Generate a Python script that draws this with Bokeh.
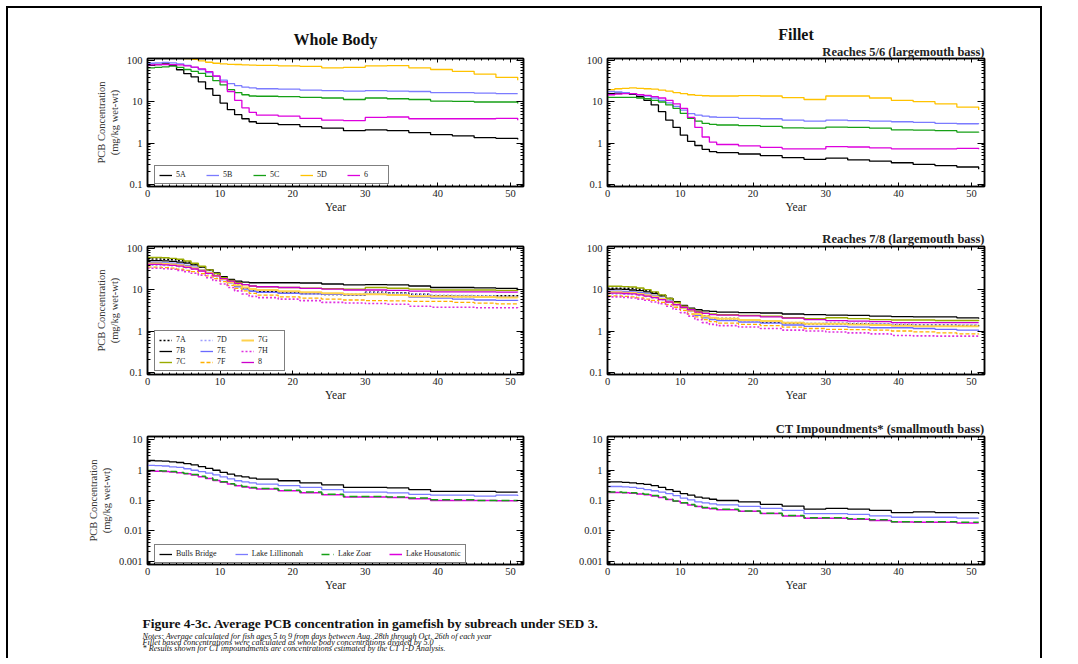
from bokeh.plotting import figure
from bokeh.models import (Range1d, LogAxis, LinearAxis, FixedTicker, Title, Legend,
                          LegendItem, Label, PrintfTickFormatter)
from bokeh.layouts import row, column
from bokeh.embed import file_html
from bokeh.resources import INLINE

FONT = "Liberation Serif"

# ---------------- data ----------------
YEARS = list(range(0, 16)) + [18, 21, 24, 27, 30, 33, 36, 39, 42, 45, 48, 51]

# Whole body, Reaches 5/6 (largemouth bass)
WB56_5A = [78, 82, 85, 78, 61, 49, 41, 31, 21, 14.5, 9.4, 6.5, 4.9, 3.9, 3.3, 3.0, 2.8, 2.5, 2.3, 2.0, 2.1, 2.0, 1.8, 1.6, 1.5, 1.35, 1.3, 1.22]
WB56_5B = [88, 90, 92, 90, 85, 78, 70, 62, 52, 42, 34, 28, 25, 23, 22, 21, 20.5, 19.5, 19, 18.5, 19, 18.5, 18, 17, 17, 16.5, 16, 16]
WB56_5C = [68, 70, 72, 75, 70, 62, 56, 50, 42, 33, 26, 20, 17, 15, 14, 13.8, 13.5, 13, 12.5, 11.5, 12.5, 12, 11.5, 10.5, 10.3, 10, 10, 9.2]
WB56_5D = [130, 128, 126, 122, 118, 114, 110, 100, 93, 88, 85, 83, 82, 80, 79, 78, 76, 74, 68, 70, 76, 77, 68, 62, 56, 48, 40, 34]
WB56_6 = [80, 81, 82, 81, 80, 76, 71, 64, 55, 43, 31, 18, 11, 7.2, 5.6, 4.8, 4.5, 4.0, 3.6, 3.5, 4.2, 4.3, 3.9, 3.9, 3.9, 3.9, 4.0, 3.6]

# Fillet, Reaches 5/6
FI56_5A = [16, 16.5, 16.5, 15.4, 13.5, 11, 8.5, 5.8, 3.6, 2.4, 1.55, 1.1, 0.87, 0.7, 0.62, 0.58, 0.54, 0.49, 0.44, 0.40, 0.43, 0.39, 0.36, 0.33, 0.30, 0.28, 0.26, 0.23]
FI56_5B = [18, 17.5, 17, 16, 15, 14, 12.5, 11, 9.5, 7.8, 6.3, 5.2, 4.8, 4.5, 4.3, 4.2, 4.0, 3.9, 3.6, 3.4, 3.6, 3.5, 3.4, 3.3, 3.2, 3.0, 2.95, 2.9]
FI56_5C = [13, 13, 13, 13, 12.5, 12, 11, 10, 8.5, 7, 5.3, 4.0, 3.4, 3.0, 2.85, 2.75, 2.65, 2.55, 2.35, 2.3, 2.45, 2.4, 2.3, 2.1, 2.05, 2.0, 1.85, 1.8]
FI56_5D = [20, 21, 21.5, 22, 21.5, 21, 20.5, 19.5, 18.5, 17, 16, 15, 14.5, 14.2, 14, 14, 14.3, 14, 12.8, 11.5, 14, 14, 12.5, 11, 10.2, 9, 7.5, 6.4]
FI56_6 = [15, 15.5, 16, 16, 15, 14.5, 13.5, 12.5, 11, 9, 7, 4.2, 2.4, 1.4, 1.05, 0.92, 0.85, 0.78, 0.72, 0.72, 0.82, 0.8, 0.76, 0.72, 0.72, 0.72, 0.74, 0.7]

# Whole body, Reaches 7/8 (largemouth bass)
WB78_7A = [57, 57, 56, 55, 52, 48, 43, 37, 31, 25, 20, 16, 13, 11, 10, 9.2, 8.5, 8.2, 7.8, 7.6, 8.8, 8.5, 7.9, 7.2, 7.0, 7.0, 7.2, 7.0]
WB78_7B = [52, 52, 51, 50, 48, 45, 41, 36, 31, 26, 21, 18, 16.5, 15.5, 15, 15, 15, 14.8, 14, 13.3, 13.5, 13.3, 12.5, 11.5, 11.5, 11.2, 11, 10.8]
WB78_7C = [62, 62, 61, 59, 56, 51, 45, 38, 31, 25, 20, 17, 15, 13.5, 12.5, 12, 11.5, 11, 10.8, 10.5, 11.5, 11, 10.5, 10, 10, 10, 9.8, 9.6]
WB78_7D = [40, 40, 39.5, 39, 37, 35, 32, 29, 25, 21, 18, 15, 12.5, 11, 9.8, 9, 8.5, 8.2, 8, 8, 8.6, 8.3, 7.8, 7.4, 7.3, 7.1, 7.0, 7.0]
WB78_7E = [47, 47, 46, 45, 43, 40, 36, 31, 27, 22, 18, 15, 12, 10.5, 9.3, 8.7, 8.3, 8.0, 7.8, 7.6, 7.9, 7.5, 6.7, 6.3, 6.0, 5.7, 5.6, 5.5]
WB78_7F = [36, 36, 35, 34, 32, 30, 28, 25, 22, 19, 16, 13, 11, 9.5, 8.3, 7.5, 6.8, 6.3, 6.0, 5.7, 5.5, 5.4, 5.3, 5.3, 5.0, 4.8, 4.6, 4.5]
WB78_7G = [44, 44, 43, 42, 40, 37, 34, 30, 26, 22, 18.5, 15.5, 13, 11.5, 10.5, 10, 9.3, 8.8, 8.3, 7.9, 7.9, 7.5, 7.0, 6.9, 6.8, 6.7, 6.6, 6.5]
WB78_7H = [34, 34, 33, 32, 30, 28, 25.5, 23, 20, 17, 14, 11.5, 9.5, 8, 7, 6.5, 6.0, 5.5, 5.0, 4.8, 4.7, 4.5, 4.0, 3.8, 3.8, 3.7, 3.7, 3.6]
WB78_8 = [42, 42, 41, 40, 38, 35.5, 32.5, 29, 25.5, 22, 19, 16.5, 14.5, 13.5, 12.5, 12, 11.5, 11, 10.5, 10, 10, 9.8, 9.4, 9.0, 9.0, 9.0, 8.9, 8.8]

# Fillet, Reaches 7/8
FI78_7A = [11, 11, 11, 11, 10.5, 9.6, 8.6, 7.4, 6.2, 5.0, 4.0, 3.3, 2.7, 2.3, 2.1, 2.0, 1.8, 1.65, 1.55, 1.5, 1.5, 1.5, 1.45, 1.4, 1.4, 1.4, 1.35, 1.3]
FI78_7B = [10.5, 10.5, 10.3, 10, 9.6, 9, 8.2, 7.2, 6.2, 5.2, 4.2, 3.6, 3.3, 3.1, 3.0, 2.9, 2.8, 2.75, 2.6, 2.5, 2.45, 2.4, 2.3, 2.25, 2.2, 2.2, 2.1, 2.0]
FI78_7C = [12.3, 12.3, 12.1, 11.8, 11.2, 10.2, 9, 7.6, 6.2, 5.0, 4.0, 3.4, 3.0, 2.7, 2.6, 2.5, 2.4, 2.3, 2.1, 2.0, 2.1, 2.0, 1.9, 1.85, 1.85, 1.8, 1.8, 1.75]
FI78_7D = [8.0, 8.0, 7.9, 7.8, 7.4, 7.0, 6.4, 5.8, 5.0, 4.2, 3.6, 3.0, 2.5, 2.2, 2.0, 1.9, 1.75, 1.7, 1.6, 1.55, 1.6, 1.55, 1.5, 1.45, 1.4, 1.4, 1.4, 1.4]
FI78_7E = [9.4, 9.4, 9.2, 9.0, 8.6, 8.0, 7.2, 6.2, 5.4, 4.4, 3.6, 3.0, 2.4, 2.1, 1.9, 1.8, 1.65, 1.55, 1.4, 1.3, 1.3, 1.25, 1.2, 1.2, 1.15, 1.1, 1.05, 1.0]
FI78_7F = [7.2, 7.2, 7.0, 6.8, 6.4, 6.0, 5.6, 5.0, 4.4, 3.8, 3.2, 2.6, 2.2, 1.9, 1.7, 1.55, 1.45, 1.35, 1.25, 1.15, 1.1, 1.08, 1.05, 1.0, 0.95, 0.9, 0.85, 0.82]
FI78_7G = [8.8, 8.8, 8.6, 8.4, 8.0, 7.4, 6.8, 6.0, 5.2, 4.4, 3.7, 3.1, 2.6, 2.3, 2.1, 2.0, 1.85, 1.75, 1.6, 1.5, 1.5, 1.45, 1.4, 1.35, 1.3, 1.3, 1.3, 1.3]
FI78_7H = [6.8, 6.8, 6.6, 6.4, 6.0, 5.6, 5.1, 4.6, 4.0, 3.4, 2.8, 2.3, 1.9, 1.6, 1.45, 1.35, 1.25, 1.15, 1.05, 1.0, 0.95, 0.9, 0.85, 0.78, 0.76, 0.75, 0.75, 0.74]
FI78_8 = [8.4, 8.4, 8.2, 8.0, 7.6, 7.1, 6.5, 5.8, 5.1, 4.4, 3.8, 3.3, 2.9, 2.7, 2.5, 2.45, 2.35, 2.2, 2.05, 1.9, 1.8, 1.75, 1.7, 1.6, 1.6, 1.6, 1.6, 1.6]

# Whole body, CT impoundments (smallmouth bass)
WBCT_BB = [2.1, 2.05, 2.0, 1.9, 1.8, 1.65, 1.5, 1.32, 1.15, 1.0, 0.85, 0.74, 0.65, 0.6, 0.55, 0.51, 0.45, 0.38, 0.33, 0.27, 0.27, 0.26, 0.23, 0.2, 0.2, 0.2, 0.19, 0.19]
WBCT_LL = [1.45, 1.42, 1.38, 1.3, 1.25, 1.12, 1.0, 0.9, 0.8, 0.7, 0.6, 0.52, 0.45, 0.41, 0.38, 0.35, 0.31, 0.27, 0.23, 0.19, 0.19, 0.18, 0.16, 0.15, 0.15, 0.14, 0.15, 0.14]
WBCT_LZ = [0.98, 0.96, 0.94, 0.9, 0.85, 0.78, 0.72, 0.63, 0.55, 0.48, 0.42, 0.36, 0.32, 0.29, 0.27, 0.25, 0.22, 0.19, 0.16, 0.135, 0.135, 0.13, 0.12, 0.105, 0.105, 0.1, 0.1, 0.1]
WBCT_LH = [0.95, 0.93, 0.91, 0.87, 0.82, 0.76, 0.7, 0.61, 0.53, 0.46, 0.4, 0.35, 0.31, 0.28, 0.26, 0.24, 0.21, 0.18, 0.155, 0.13, 0.13, 0.125, 0.115, 0.1, 0.1, 0.1, 0.098, 0.095]

# Fillet, CT impoundments
FICT_BB = [0.41, 0.41, 0.4, 0.38, 0.36, 0.34, 0.31, 0.27, 0.23, 0.2, 0.17, 0.15, 0.13, 0.12, 0.11, 0.1, 0.09, 0.075, 0.065, 0.052, 0.055, 0.052, 0.047, 0.04, 0.042, 0.04, 0.04, 0.036]
FICT_LL = [0.29, 0.29, 0.28, 0.27, 0.25, 0.23, 0.21, 0.19, 0.17, 0.145, 0.12, 0.105, 0.09, 0.083, 0.077, 0.072, 0.064, 0.055, 0.047, 0.037, 0.037, 0.035, 0.031, 0.028, 0.028, 0.028, 0.026, 0.026]
FICT_LZ = [0.19, 0.19, 0.185, 0.18, 0.17, 0.16, 0.145, 0.13, 0.11, 0.097, 0.085, 0.074, 0.065, 0.059, 0.055, 0.051, 0.045, 0.038, 0.032, 0.027, 0.027, 0.025, 0.023, 0.02, 0.02, 0.02, 0.019, 0.019]
FICT_LH = [0.185, 0.185, 0.18, 0.175, 0.165, 0.155, 0.14, 0.125, 0.107, 0.094, 0.082, 0.071, 0.063, 0.057, 0.053, 0.049, 0.044, 0.037, 0.031, 0.026, 0.026, 0.024, 0.022, 0.0195, 0.019, 0.019, 0.018, 0.018]

LABELS_56 = ["5A", "5B", "5C", "5D", "6"]
LABELS_78 = ["7A", "7B", "7C", "7D", "7E", "7F", "7G", "7H", "8"]
LABELS_CT = ["Bulls Bridge", "Lake Lillinonah", "Lake Zoar", "Lake Housatonic"]

X_TICKS = [0, 10, 20, 30, 40, 50]
Y_LABEL = "PCB Concentration\n(mg/kg wet-wt)"
CAPTION = "Figure 4-3c.  Average PCB concentration in gamefish by subreach under SED 3."
NOTES = [
    "Notes: Average calculated for fish ages 5 to 9 from days between Aug. 28th through Oct. 26th of each year",
    "Fillet based concentrations were calculated as whole body concentrations divided by 5.0",
    "* Results shown for CT impoundments are concentrations estimated by the CT 1-D Analysis.",
]

# ---------------- styles ----------------
STY_56 = [("#000000", "solid", 1.3), ("#7b7bff", "solid", 1.3), ("#16a016", "solid", 1.3),
          ("#ffc200", "solid", 1.3), ("#dd00dd", "solid", 1.3)]
STY_78 = [("#000000", "2 2", 1.6), ("#000000", "solid", 1.3), ("#9aab00", "solid", 1.4),
          ("#9d9dff", "2 2", 1.6), ("#6a6aff", "solid", 1.3), ("#ffb000", "4 2", 1.3),
          ("#ffd24d", "solid", 2.0), ("#e030e0", "2 2", 1.6), ("#cc00cc", "solid", 1.3)]
STY_CT = [("#000000", "solid", 1.3), ("#7b7bff", "solid", 1.3), ("#16a016", "8 4", 1.5),
          ("#dd00dd", "solid", 1.5)]
ORDER_CT = [0, 1, 3, 2]


def decades(lo, hi):
    major = [10.0 ** e for e in range(lo, hi + 1)]
    minor = [m * 10.0 ** e for e in range(lo - 1, hi + 1) for m in range(2, 10)]
    return major, minor


def style_axis(ax, vertical, show_labels=True):
    ax.axis_line_width = 1.5
    ax.axis_line_color = "black"
    ax.major_tick_out = 0
    ax.minor_tick_out = 0
    ax.major_tick_in = 7 if vertical else 4
    ax.minor_tick_in = 3 if vertical else 2
    ax.major_tick_line_width = 1
    ax.minor_tick_line_width = 1
    ax.major_label_text_font = FONT
    ax.major_label_text_color = "#222222"
    ax.major_label_standoff = 5 if vertical else 3
    ax.major_label_text_font_size = "10.5px"
    if not show_labels:
        ax.major_label_text_font_size = "1px"
        ax.major_label_text_alpha = 0.0
        ax.major_label_standoff = 0


def make_panel(series, styles, labels, y_exps, y_pad, left_col, titles, legend_cfg, order=None,
               top_border=26, bottom_border=36):
    lo, hi = y_exps
    if left_col:
        fw, bl, br = 376, 139, 20
    else:
        fw, bl, br = 377, 64, 56
    p = figure(frame_width=fw, frame_height=128, y_axis_type="log",
               x_range=Range1d(0, 51.8),
               y_range=Range1d(10 ** (lo - y_pad), 10 ** (hi + y_pad)),
               min_border_left=bl, min_border_right=br,
               min_border_top=top_border, min_border_bottom=bottom_border,
               output_backend="svg", toolbar_location=None)
    p.title.visible = False
    p.xgrid.visible = False
    p.ygrid.visible = False
    p.outline_line_color = "black"
    p.outline_line_width = 1.5
    p.background_fill_color = "white"
    p.border_fill_color = "white"

    rends = [None] * len(series)
    idx = order if order is not None else list(range(len(series)))
    for i in idx:
        color, dash, width = styles[i]
        rends[i] = p.step(YEARS, series[i], mode="after", line_color=color,
                          line_dash=dash, line_width=width)

    major, minor = decades(lo, hi)
    yt = FixedTicker(ticks=major, minor_ticks=minor)
    xt = FixedTicker(ticks=X_TICKS, minor_ticks=list(range(0, 52)))

    ax_b = p.below[0]
    ax_l = p.left[0]
    ax_b.ticker = xt
    ax_l.ticker = yt
    ax_l.formatter = PrintfTickFormatter(format="%g")
    style_axis(ax_b, False)
    style_axis(ax_l, True)
    ax_b.axis_label = "Year"
    ax_b.axis_label_text_font = FONT
    ax_b.axis_label_text_font_size = "11.5px"
    ax_b.axis_label_text_font_style = "normal"
    ax_b.axis_label_text_color = "#222222"
    ax_b.axis_label_standoff = 1
    if left_col:
        ax_l.axis_label = Y_LABEL
        ax_l.axis_label_text_font = FONT
        ax_l.axis_label_text_font_size = "10.5px"
        ax_l.axis_label_text_font_style = "normal"
        ax_l.axis_label_text_color = "#333333"
        ax_l.axis_label_standoff = 4

    ax_r = LogAxis(ticker=yt)
    style_axis(ax_r, True, show_labels=False)
    p.add_layout(ax_r, "right")
    ax_t = LinearAxis(ticker=xt)
    style_axis(ax_t, False, show_labels=False)
    p.add_layout(ax_t, "above")

    for t in titles:
        p.add_layout(t, "above")

    if legend_cfg is not None:
        items = [LegendItem(label=labels[i], renderers=[rends[i]]) for i in range(len(series))]
        leg = Legend(items=items, margin=0, padding=4,
                     border_line_color="black", border_line_width=1.5,
                     background_fill_color="white", background_fill_alpha=1.0,
                     label_text_font=FONT, label_text_font_size="8px",
                     label_text_color="#222222",
                     glyph_width=13, glyph_height=8, label_height=8, label_standoff=4,
                     **legend_cfg)
        p.add_layout(leg)
    return p


def big_title(text, standoff):
    return Title(text=text, align="center", text_font=FONT, text_font_size="16px",
                 text_font_style="bold", text_color="#111111", standoff=standoff)


def sub_title(text, standoff=1):
    return Title(text=text, align="right", text_font=FONT, text_font_size="12.5px",
                 text_font_style="bold", text_color="#222222", standoff=standoff)


p11 = make_panel([WB56_5A, WB56_5B, WB56_5C, WB56_5D, WB56_6], STY_56, LABELS_56, (-1, 2), 0.06,
                 True, [big_title("Whole Body", 21)],
                 dict(location=(7, 2), orientation="horizontal", spacing=10, label_width=20),
                 top_border=50, bottom_border=34)
p12 = make_panel([FI56_5A, FI56_5B, FI56_5C, FI56_5D, FI56_6], STY_56, LABELS_56, (-1, 2), 0.06,
                 False, [sub_title("Reaches 5/6 (largemouth bass)", 0), big_title("Fillet", 0)], None,
                 top_border=50, bottom_border=34)

p21 = make_panel([WB78_7A, WB78_7B, WB78_7C, WB78_7D, WB78_7E, WB78_7F, WB78_7G, WB78_7H, WB78_8],
                 STY_78, LABELS_78, (-1, 2), 0.06, True, [],
                 dict(location=(7, 3), orientation="vertical", nrows=3, spacing=2, label_width=22))
p22 = make_panel([FI78_7A, FI78_7B, FI78_7C, FI78_7D, FI78_7E, FI78_7F, FI78_7G, FI78_7H, FI78_8],
                 STY_78, LABELS_78, (-1, 2), 0.06, False,
                 [sub_title("Reaches 7/8 (largemouth bass)")], None)

p31 = make_panel([WBCT_BB, WBCT_LL, WBCT_LZ, WBCT_LH], STY_CT, LABELS_CT, (-3, 1), 0.115,
                 True, [], dict(location=(7, 1), orientation="horizontal", spacing=18),
                 order=ORDER_CT)
p32 = make_panel([FICT_BB, FICT_LL, FICT_LZ, FICT_LH], STY_CT, LABELS_CT, (-3, 1), 0.115,
                 False, [sub_title("CT Impoundments* (smallmouth bass)")], None, order=ORDER_CT)

# caption area
CAP_W, CAP_H = 1032, 60
cap = figure(width=CAP_W, height=CAP_H, x_range=Range1d(0, CAP_W), y_range=Range1d(0, CAP_H),
             min_border=0, x_axis_location=None, y_axis_location=None,
             output_backend="svg", toolbar_location=None)
cap.title.visible = False
cap.xgrid.visible = False
cap.ygrid.visible = False
cap.outline_line_color = None
cap.background_fill_color = "white"
cap.border_fill_color = "white"
cap.add_layout(Label(x=134, y=CAP_H - 22.7, text=CAPTION, text_font=FONT, text_font_size="13.5px",
                     text_font_style="bold", text_baseline="middle", text_color="#111111"))
for txt, yy in zip(NOTES, [36, 42, 47.7]):
    cap.add_layout(Label(x=134, y=CAP_H - yy, text=txt, text_font=FONT, text_font_size="8.2px",
                         text_font_style="italic", text_baseline="middle", text_color="#111111"))

layout = column(row(p11, p12), row(p21, p22), row(p31, p32), cap, margin=(8, 0, 0, 8),
                styles={"box-shadow": "-2px -2px 0 0 #000, 2px -2px 0 0 #000"})

with open("out.html", "w") as f:
    f.write(file_html(layout, INLINE, title="Figure 4-3c"))
